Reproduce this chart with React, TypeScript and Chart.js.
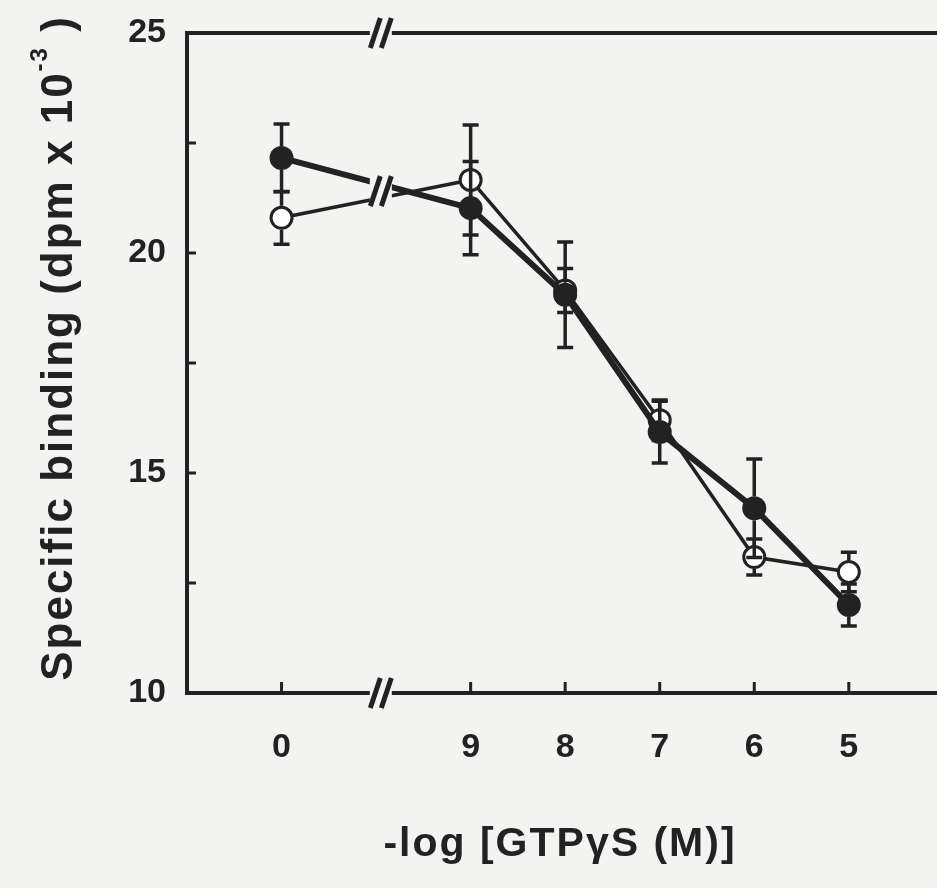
import React, { useEffect, useRef } from 'react';
import { Chart, registerables } from 'chart.js';

Chart.register(...registerables);

// ---- data ----
const xPositions = [0, 2, 3, 4, 5, 6]; // plotting positions (axis is broken between 0 and 9)
const xTickLabels = ['0', '9', '8', '7', '6', '5']; // -log [GTPγS (M)]
const filledValues = [22.16, 21.02, 19.05, 15.93, 14.2, 12.0];
const filledErrors = [0.77, 1.06, 1.2, 0.7, 1.12, 0.48];
const openValues = [20.8, 21.66, 19.15, 16.2, 13.09, 12.75];
const openErrors = [0.6, 1.25, 0.5, 0.46, 0.41, 0.45];
const yTickValues = [10, 12.5, 15, 17.5, 20, 22.5, 25];
const yLabelValues = [10, 15, 20, 25];
const xBreakAt = 1.05;

const INK = '#222222';
const BG = '#f3f3f1';
const FONT = '"Liberation Sans", Arial, Helvetica, sans-serif';

function slashPair(ctx: CanvasRenderingContext2D, cx: number, cy: number) {
  ctx.save();
  ctx.strokeStyle = INK;
  ctx.lineWidth = 5;
  ctx.lineCap = 'butt';
  for (const dx of [-5.5, 5.5]) {
    ctx.beginPath();
    ctx.moveTo(cx + dx - 5, cy + 15);
    ctx.lineTo(cx + dx + 5, cy - 15);
    ctx.stroke();
  }
  ctx.restore();
}

const figurePlugin = {
  id: 'figure',
  beforeDraw(chart: any) {
    const { ctx, width, height } = chart;
    ctx.save();
    ctx.fillStyle = BG;
    ctx.fillRect(0, 0, width, height);
    ctx.restore();
  },
  afterDatasetsDraw(chart: any) {
    const { ctx, chartArea: a } = chart;
    const x = chart.scales.x;
    const y = chart.scales.y;

    // error bars
    ctx.save();
    ctx.strokeStyle = INK;
    ctx.lineWidth = 3.5;
    chart.data.datasets.forEach((ds: any) => {
      const errs: number[] = ds.errors;
      const rOut: number = ds.outerRadius;
      ds.data.forEach((pt: any, i: number) => {
        const px = x.getPixelForValue(pt.x);
        const yc = y.getPixelForValue(pt.y);
        const yt = y.getPixelForValue(pt.y + errs[i]);
        const yb = y.getPixelForValue(pt.y - errs[i]);
        ctx.beginPath();
        if (yc - rOut > yt) {
          ctx.moveTo(px, yc - rOut);
          ctx.lineTo(px, yt);
        }
        if (yc + rOut < yb) {
          ctx.moveTo(px, yc + rOut);
          ctx.lineTo(px, yb);
        }
        ctx.moveTo(px - 8, yt);
        ctx.lineTo(px + 8, yt);
        ctx.moveTo(px - 8, yb);
        ctx.lineTo(px + 8, yb);
        ctx.stroke();
      });
    });
    ctx.restore();

    // frame (left, top, bottom)
    ctx.save();
    ctx.strokeStyle = INK;
    ctx.lineWidth = 4;
    ctx.lineCap = 'square';
    ctx.beginPath();
    ctx.moveTo(chart.width + 5, a.top);
    ctx.lineTo(a.left, a.top);
    ctx.lineTo(a.left, a.bottom);
    ctx.lineTo(chart.width + 5, a.bottom);
    ctx.stroke();

    // inward tick marks
    ctx.lineWidth = 3;
    ctx.lineCap = 'butt';
    ctx.beginPath();
    y.ticks.forEach((t: any) => {
      if (t.value <= y.min || t.value >= y.max) return;
      const py = y.getPixelForValue(t.value);
      ctx.moveTo(a.left, py);
      ctx.lineTo(a.left + 9, py);
    });
    x.ticks.forEach((t: any) => {
      const px = x.getPixelForValue(t.value);
      ctx.moveTo(px, a.bottom);
      ctx.lineTo(px, a.bottom - 11);
    });
    ctx.stroke();
    ctx.restore();

    // axis / line breaks
    const bx = x.getPixelForValue(xBreakAt);
    const gap = 11;
    ctx.save();
    ctx.fillStyle = BG;
    ctx.fillRect(bx - gap, a.top - 8, gap * 2, 16);
    ctx.fillRect(bx - gap, a.bottom - 8, gap * 2, 16);
    const lineYs = chart.data.datasets.map((ds: any) => {
      const p0 = ds.data[0];
      const p1 = ds.data[1];
      const v = p0.y + ((xBreakAt - p0.x) * (p1.y - p0.y)) / (p1.x - p0.x);
      return y.getPixelForValue(v);
    });
    const yMin = Math.min(...lineYs);
    const yMax = Math.max(...lineYs);
    ctx.fillRect(bx - gap, yMin - 10, gap * 2, yMax - yMin + 20);
    ctx.restore();
    slashPair(ctx, bx, a.top);
    slashPair(ctx, bx, a.bottom);
    slashPair(ctx, bx, (yMin + yMax) / 2);
  },
  afterDraw(chart: any) {
    const { ctx, chartArea: a } = chart;
    ctx.save();
    ctx.fillStyle = INK;
    (ctx as any).letterSpacing = '2px';

    // x title
    ctx.font = `bold 41px ${FONT}`;
    ctx.textAlign = 'center';
    ctx.textBaseline = 'alphabetic';
    ctx.fillText('-log [GTPγS (M)]', 560, 856);

    // y title, with superscript
    const main = 'Specific binding (dpm x 10';
    const sup = '-3';
    const tail = ' )';
    ctx.font = `bold 44px ${FONT}`;
    const w1 = ctx.measureText(main).width;
    const wTail = ctx.measureText(tail).width;
    ctx.font = `bold 24px ${FONT}`;
    const wSup = ctx.measureText(sup).width;
    const total = w1 + wSup + wTail;
    ctx.translate(72, (a.top + a.bottom) / 2 - 15);
    ctx.rotate(-Math.PI / 2);
    ctx.textAlign = 'left';
    let sx = -total / 2;
    ctx.font = `bold 44px ${FONT}`;
    ctx.fillText(main, sx, 0);
    sx += w1;
    ctx.font = `bold 24px ${FONT}`;
    ctx.fillText(sup, sx, -25);
    sx += wSup;
    ctx.font = `bold 44px ${FONT}`;
    ctx.fillText(tail, sx, 0);
    ctx.restore();
  },
};

export default function App() {
  const ref = useRef<HTMLCanvasElement>(null);

  useEffect(() => {
    document.body.style.margin = '0';
    const canvas = ref.current;
    if (!canvas) return;

    const chart = new Chart(canvas, {
      type: 'line',
      data: {
        datasets: [
          {
            label: 'filled',
            data: xPositions.map((p, i) => ({ x: p, y: filledValues[i] })),
            errors: filledErrors,
            outerRadius: 12,
            borderColor: INK,
            borderWidth: 6,
            pointRadius: 12,
            pointBorderWidth: 0,
            pointBackgroundColor: INK,
            pointBorderColor: INK,
            tension: 0,
            fill: false,
          } as any,
          {
            label: 'open',
            data: xPositions.map((p, i) => ({ x: p, y: openValues[i] })),
            errors: openErrors,
            outerRadius: 12,
            borderColor: INK,
            borderWidth: 3.5,
            pointRadius: 10.5,
            pointBorderWidth: 3,
            pointBackgroundColor: '#ffffff',
            pointBorderColor: INK,
            tension: 0,
            fill: false,
          } as any,
        ],
      },
      options: {
        animation: false,
        responsive: false,
        events: [],
        layout: { padding: { top: 33, right: 0, bottom: 0, left: 0 } },
        plugins: {
          legend: { display: false },
          tooltip: { enabled: false },
        },
        scales: {
          x: {
            type: 'linear',
            min: -1,
            max: 6.79,
            grid: { display: false, drawTicks: false },
            border: { display: false },
            afterBuildTicks: (s: any) => {
              s.ticks = xPositions.map((v) => ({ value: v }));
            },
            afterFit: (s: any) => {
              s.height = 195;
            },
            ticks: {
              autoSkip: false,
              maxRotation: 0,
              padding: 34,
              color: INK,
              font: { family: FONT, size: 34, weight: 'bold' },
              callback: (v: any) => {
                const i = xPositions.indexOf(Number(v));
                return i >= 0 ? xTickLabels[i] : '';
              },
            },
          },
          y: {
            type: 'linear',
            min: 10,
            max: 25,
            grid: { display: false, drawTicks: false },
            border: { display: false },
            afterBuildTicks: (s: any) => {
              s.ticks = yTickValues.map((v) => ({ value: v }));
            },
            afterFit: (s: any) => {
              s.width = 187;
              s.paddingTop = 0;
              s.paddingBottom = 0;
            },
            ticks: {
              autoSkip: false,
              padding: 21,
              color: INK,
              font: { family: FONT, size: 34, weight: 'bold' },
              callback: (v: any) => (yLabelValues.includes(Number(v)) ? String(v) : ''),
            },
          },
        },
      },
      plugins: [figurePlugin],
    } as any);

    return () => chart.destroy();
  }, []);

  return (
    <canvas
      ref={ref}
      width={937}
      height={888}
      style={{ display: 'block', width: 937, height: 888 }}
    />
  );
}
